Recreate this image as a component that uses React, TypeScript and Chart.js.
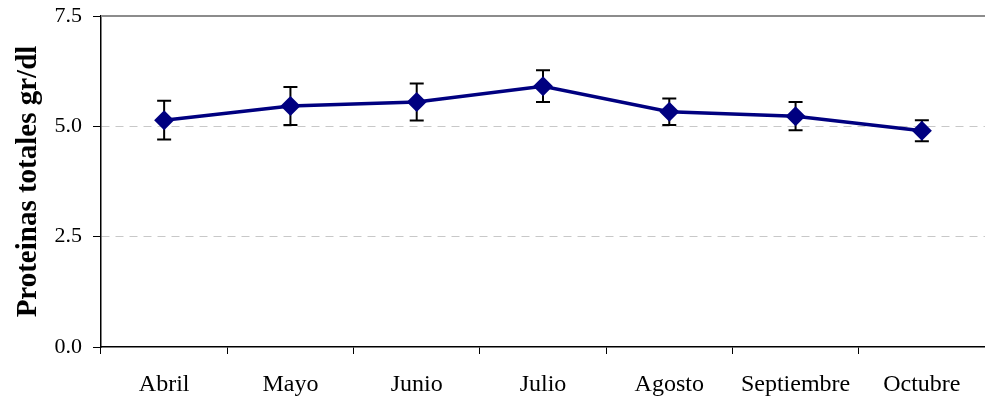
import React, { useEffect, useRef } from "react";
import { Chart, registerables } from "chart.js";

Chart.register(...registerables);

const months = ["Abril", "Mayo", "Junio", "Julio", "Agosto", "Septiembre", "Octubre"];
const proteinMeans = [5.14, 5.46, 5.55, 5.91, 5.33, 5.23, 4.9];
const proteinErrors = [0.44, 0.43, 0.42, 0.36, 0.3, 0.32, 0.24];
const yTicks = [0, 2.5, 5, 7.5];

const SERIF = '"Liberation Serif", "Times New Roman", serif';

// Vertical error bars with caps, drawn beneath the line and markers
const errorBarPlugin = {
  id: "errorBars",
  beforeDatasetsDraw(chart: any) {
    const { ctx } = chart;
    const xScale = chart.scales.x;
    const yScale = chart.scales.y;
    ctx.save();
    ctx.strokeStyle = "#000000";
    ctx.lineWidth = 2;
    proteinMeans.forEach((v, i) => {
      const x = xScale.getPixelForValue(i);
      const yTop = yScale.getPixelForValue(v + proteinErrors[i]);
      const yBot = yScale.getPixelForValue(v - proteinErrors[i]);
      const cap = 7;
      ctx.beginPath();
      ctx.moveTo(x, yTop);
      ctx.lineTo(x, yBot);
      ctx.moveTo(x - cap, yTop);
      ctx.lineTo(x + cap, yTop);
      ctx.moveTo(x - cap, yBot);
      ctx.lineTo(x + cap, yBot);
      ctx.stroke();
    });
    ctx.restore();
  },
};

// Grey frame line along the top of the plot area
const topBorderPlugin = {
  id: "topBorder",
  beforeDatasetsDraw(chart: any) {
    const { ctx, chartArea } = chart;
    ctx.save();
    ctx.strokeStyle = "#8c8c8c";
    ctx.lineWidth = 2;
    ctx.beginPath();
    ctx.moveTo(chartArea.left, chartArea.top);
    ctx.lineTo(chartArea.right, chartArea.top);
    ctx.stroke();
    ctx.restore();
  },
};

export default function App() {
  const canvasRef = useRef<HTMLCanvasElement | null>(null);

  useEffect(() => {
    document.body.style.margin = "0";
    const canvas = canvasRef.current;
    if (!canvas) return;
    const chart = new Chart(canvas, {
      type: "line",
      data: {
        labels: months,
        datasets: [
          {
            data: proteinMeans,
            borderColor: "#000080",
            backgroundColor: "#000080",
            borderWidth: 3.5,
            pointStyle: "rectRot",
            pointRadius: 10,
            pointBorderWidth: 0,
            pointBackgroundColor: "#000080",
            tension: 0,
          },
        ],
      },
      options: {
        responsive: false,
        animation: false,
        devicePixelRatio: 1,
        layout: { autoPadding: false, padding: { top: 16, right: 0, bottom: 0, left: 0 } },
        plugins: {
          legend: { display: false },
          tooltip: { enabled: false },
        },
        scales: {
          x: {
            type: "category",
            offset: true,
            grid: {
              offset: true,
              drawOnChartArea: false,
              drawTicks: true,
              tickLength: 7,
              tickColor: "#000000",
              tickWidth: 1,
            },
            border: { display: true, color: "#000000", width: 1.5 },
            ticks: {
              color: "#000000",
              font: { family: SERIF, size: 24 },
              padding: 16,
              maxRotation: 0,
              autoSkip: false,
            },
            afterFit(scale: any) {
              scale.height = 52;
              scale.paddingLeft = 0;
              scale.paddingRight = 0;
            },
          },
          y: {
            min: 0,
            max: 7.5,
            afterBuildTicks(scale: any) {
              scale.ticks = yTicks.map((v) => ({ value: v }));
            },
            grid: {
              color: (c: any) =>
                c.tick && (c.tick.value === 0 || c.tick.value === 7.5) ? "rgba(0,0,0,0)" : "#c8c8c8",
              lineWidth: 1,
              tickLength: 8,
              tickColor: "#000000",
              tickBorderDash: [],
              tickWidth: 1,
            },
            border: { display: true, color: "#000000", width: 1.5, dash: [8, 6] },
            ticks: {
              color: "#000000",
              font: { family: SERIF, size: 22 },
              padding: 11,
              callback: (v: any) => Number(v).toFixed(1),
            },
            title: {
              display: true,
              text: "Proteinas totales gr/dl",
              color: "#000000",
              font: { family: SERIF, size: 29, weight: "bold" },
              padding: { top: 11, bottom: 0 },
            },
            afterFit(scale: any) {
              scale.width = 101;
              scale.paddingTop = 0;
              scale.paddingBottom = 0;
            },
          },
        },
      },
      plugins: [topBorderPlugin, errorBarPlugin],
    });
    return () => chart.destroy();
  }, []);

  return (
    <div style={{ width: 985, height: 399, background: "#ffffff" }}>
      <canvas ref={canvasRef} width={985} height={399} style={{ display: "block" }} />
    </div>
  );
}
